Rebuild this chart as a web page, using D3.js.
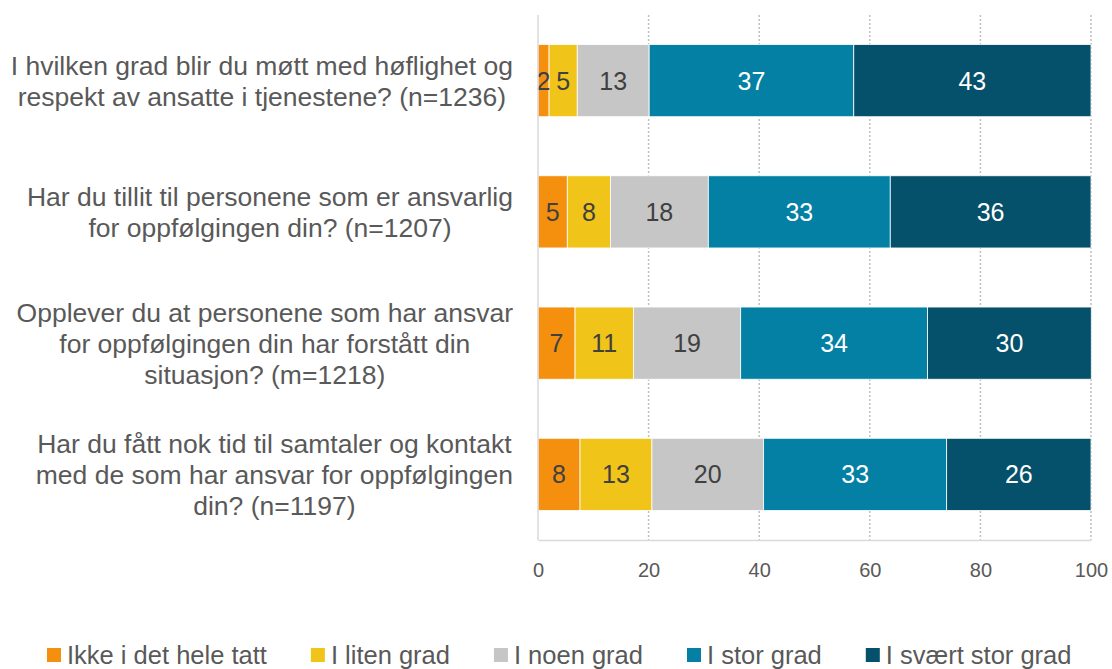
<!DOCTYPE html>
<html>
<head>
<meta charset="utf-8" />
<title>Stacked bars</title>
<script src="https://d3js.org/d3.v7.min.js"></script>
<style>
    body { margin: 0; background: #fff; }
    svg { display: block; font-family: "Liberation Sans", Arial, sans-serif; }
</style>
</head>
<body>
<div id="holder"></div>
<script>
    //Data
    const categories = [
        "I hvilken grad blir du møtt med høflighet og\nrespekt av ansatte i tjenestene? (n=1236)",
        "Har du tillit til personene som er ansvarlig\nfor oppfølgingen din? (n=1207)",
        "Opplever du at personene som har ansvar\nfor oppfølgingen din har forstått din\nsituasjon? (m=1218)",
        "Har du fått nok tid til samtaler og kontakt\nmed de som har ansvar for oppfølgingen\ndin? (n=1197)"
    ];
    const seriesNames = ["Ikke i det hele tatt", "I liten grad", "I noen grad", "I stor grad", "I svært stor grad"];
    const ikkeIDetHeleTatt = [2.0, 5.3, 6.7, 7.6];
    const iLitenGrad = [5.1, 7.8, 10.55, 13.0];
    const iNoenGrad = [13.0, 17.7, 19.4, 20.2];
    const iStorGrad = [37.0, 32.9, 33.8, 33.1];
    const iSvaertStorGrad = [42.9, 36.3, 29.6, 26.1];
    const xTicks = [0, 20, 40, 60, 80, 100];

    const colors = ["#F5900F", "#F0C419", "#C6C6C6", "#0480A4", "#05506A"];
    const labelColors = ["#404040", "#404040", "#404040", "#ffffff", "#ffffff"];

    //Variables
    const w = 1112;
    const h = 669;
    const plotLeft = 538, plotRight = 1091, plotTop = 15, plotBottom = 540;

    const seriesValues = [ikkeIDetHeleTatt, iLitenGrad, iNoenGrad, iStorGrad, iSvaertStorGrad];
    const table = categories.map((c, i) => {
        let row = {cat: c};
        seriesNames.forEach((s, j) => row[s] = seriesValues[j][i]);
        return row;
    });
    const stacked = d3.stack().keys(seriesNames)(table);

    let svg = d3.select("#holder")
        .append("svg")
        .attr("width", w)
        .attr("height", h);

    //Scales
    let xScale = d3.scaleLinear()
        .domain([0, 100])
        .range([plotLeft, plotRight]);

    let yScale = d3.scaleBand()
        .domain(categories)
        .range([plotTop, plotBottom])
        .paddingInner(0.45)
        .paddingOuter(0.225);

    //Gridlines (dotted)
    svg.append("g")
        .selectAll("line")
        .data(xTicks.filter(t => t > 0))
        .enter()
        .append("line")
        .attr("x1", d => xScale(d))
        .attr("x2", d => xScale(d))
        .attr("y1", plotTop)
        .attr("y2", plotBottom)
        .attr("stroke", "#BFBFBF")
        .attr("stroke-width", 1.5)
        .attr("stroke-dasharray", "2,2");

    //Bars
    svg.append("g")
        .selectAll("g")
        .data(stacked)
        .enter()
        .append("g")
        .attr("fill", (d, i) => colors[i])
        .selectAll("rect")
        .data(d => d)
        .enter()
        .append("rect")
        .attr("x", d => xScale(d[0]))
        .attr("y", d => yScale(d.data.cat))
        .attr("width", d => xScale(d[1]) - xScale(d[0]))
        .attr("height", yScale.bandwidth())
        .attr("stroke", "#ffffff")
        .attr("stroke-width", 0.8);

    //Data labels
    stacked.forEach((s, i) => {
        svg.append("g")
            .selectAll("text")
            .data(s)
            .enter()
            .append("text")
            .attr("x", d => (xScale(d[0]) + xScale(d[1])) / 2)
            .attr("y", d => yScale(d.data.cat) + yScale.bandwidth() / 2)
            .attr("dy", "0.36em")
            .attr("text-anchor", "middle")
            .attr("font-size", "25px")
            .attr("fill", labelColors[i])
            .text(d => Math.round(d[1] - d[0]));
    });

    //Axes
    const xAxis = d3.axisBottom(xScale).tickValues(xTicks).tickSize(0).tickPadding(23);
    let gx = svg.append("g")
        .attr("transform", "translate(0," + plotBottom + ")")
        .call(xAxis);
    gx.select(".domain").attr("stroke", "#D9D9D9").attr("stroke-width", 1.5);
    gx.selectAll("text")
        .attr("font-size", "20px")
        .attr("font-family", "'Liberation Sans', Arial, sans-serif")
        .attr("fill", "#595959");

    svg.append("line")
        .attr("x1", plotLeft).attr("x2", plotLeft)
        .attr("y1", plotTop).attr("y2", plotBottom)
        .attr("stroke", "#D9D9D9")
        .attr("stroke-width", 1.5);

    //Category labels - centred lines in a right aligned block
    const blockRight = 513;
    const lineH = 31;
    categories.forEach(c => {
        let lines = c.split("\n");
        let g = svg.append("g");
        let texts = g.selectAll("text")
            .data(lines)
            .enter()
            .append("text")
            .attr("font-size", "26.5px")
            .attr("fill", "#595959")
            .attr("text-anchor", "middle")
            .text(d => d);
        let maxW = d3.max(texts.nodes(), n => n.getComputedTextLength());
        let cy = yScale(c) + yScale.bandwidth() / 2;
        texts.attr("x", blockRight - maxW / 2)
            .attr("y", (d, i) => cy + (i - (lines.length - 1) / 2) * lineH)
            .attr("dy", "0.36em");
    });

    //Legend
    let lx = 47;
    const ly = 655;
    seriesNames.forEach((s, i) => {
        svg.append("rect")
            .attr("x", lx)
            .attr("y", ly - 7)
            .attr("width", 14)
            .attr("height", 14)
            .attr("fill", colors[i]);
        let t = svg.append("text")
            .attr("x", lx + 20)
            .attr("y", ly)
            .attr("dy", "0.34em")
            .attr("font-size", "25.5px")
            .attr("fill", "#595959")
            .text(s);
        lx += 20 + t.node().getComputedTextLength() + 44;
    });
</script>
</body>
</html>
